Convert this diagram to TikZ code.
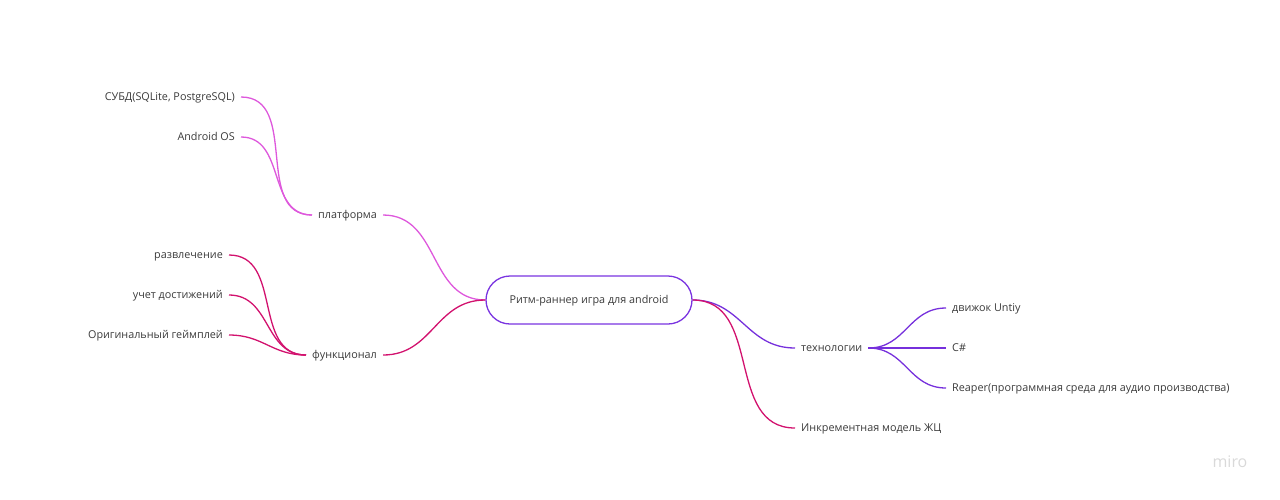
\documentclass[tikz,border=0pt]{standalone}
\usepackage{fontspec}
\setmainfont{Open Sans}
\usepackage{xcolor}
\definecolor{textgray}{HTML}{3A3A3A}
\definecolor{platcol}{HTML}{DE58DC}
\definecolor{funccol}{HTML}{D2126E}
\definecolor{techcol}{HTML}{7630DC}
\definecolor{rootcol}{HTML}{7A34E0}

\begin{document}
\begin{tikzpicture}[x=1pt, y=-1pt,
  leaf/.style={text=textgray, font=\fontsize{10.8}{13}\selectfont, inner xsep=6pt, inner ysep=0pt,
               text height=8pt, text depth=2pt},
  branch/.style={line width=1.3pt},
  link/.style={out=0, in=180, looseness=1.1}]
  \useasboundingbox (0,0) rectangle (1280,499);
  % root
  \node[leaf, draw=rootcol, line width=1.3pt, rounded corners=24pt,
        minimum width=206pt, minimum height=48pt] (root) at (589,300) {Ритм-раннер игра для android};
  % left side
  \node[leaf, anchor=west] (platf) at (312,215) {платформа};
  \node[leaf, anchor=east] (subd) at (241,97) {СУБД(SQLite, PostgreSQL)};
  \node[leaf, anchor=east] (andr) at (241,137) {Android OS};
  \node[leaf, anchor=west] (func) at (306,355) {функционал};
  \node[leaf, anchor=east] (razv) at (229,255) {развлечение};
  \node[leaf, anchor=east] (uchet) at (229,295) {учет достижений};
  \node[leaf, anchor=east] (orig) at (229,335) {Оригинальный геймплей};
  % right side
  \node[leaf, anchor=west] (tech) at (795,348) {технологии};
  \node[leaf, anchor=west] (inkr) at (795,428) {Инкрементная модель ЖЦ};
  \node[leaf, anchor=west] (unity) at (946,308) {движок Untiy};
  \node[leaf, anchor=west] (csharp) at (946,348) {C\#};
  \node[leaf, anchor=west] (reaper) at (946,388) {Reaper(программная среда для аудио производства)};
  \node[text=gray!30, font=\fontsize{16}{18}\selectfont] (miro) at (1230,462) {miro};

  \draw[branch, platcol] (platf.east) to[link] (root.west);
  \draw[branch, platcol] (subd.east) to[link] (platf.west);
  \draw[branch, platcol] (andr.east) to[link] (platf.west);
  \draw[branch, funccol] (func.east) to[link] (root.west);
  \draw[branch, funccol] (razv.east) to[link] (func.west);
  \draw[branch, funccol] (uchet.east) to[link] (func.west);
  \draw[branch, funccol] (orig.east) to[link] (func.west);
  \draw[branch, techcol] (root.east) to[link] (tech.west);
  \draw[branch, funccol] (root.east) to[link] (inkr.west);
  \draw[branch, techcol] (tech.east) to[link] (unity.west);
  \draw[branch, techcol] (tech.east) to[link] (csharp.west);
  \draw[branch, techcol] (tech.east) to[link] (reaper.west);
\end{tikzpicture}
\end{document}
